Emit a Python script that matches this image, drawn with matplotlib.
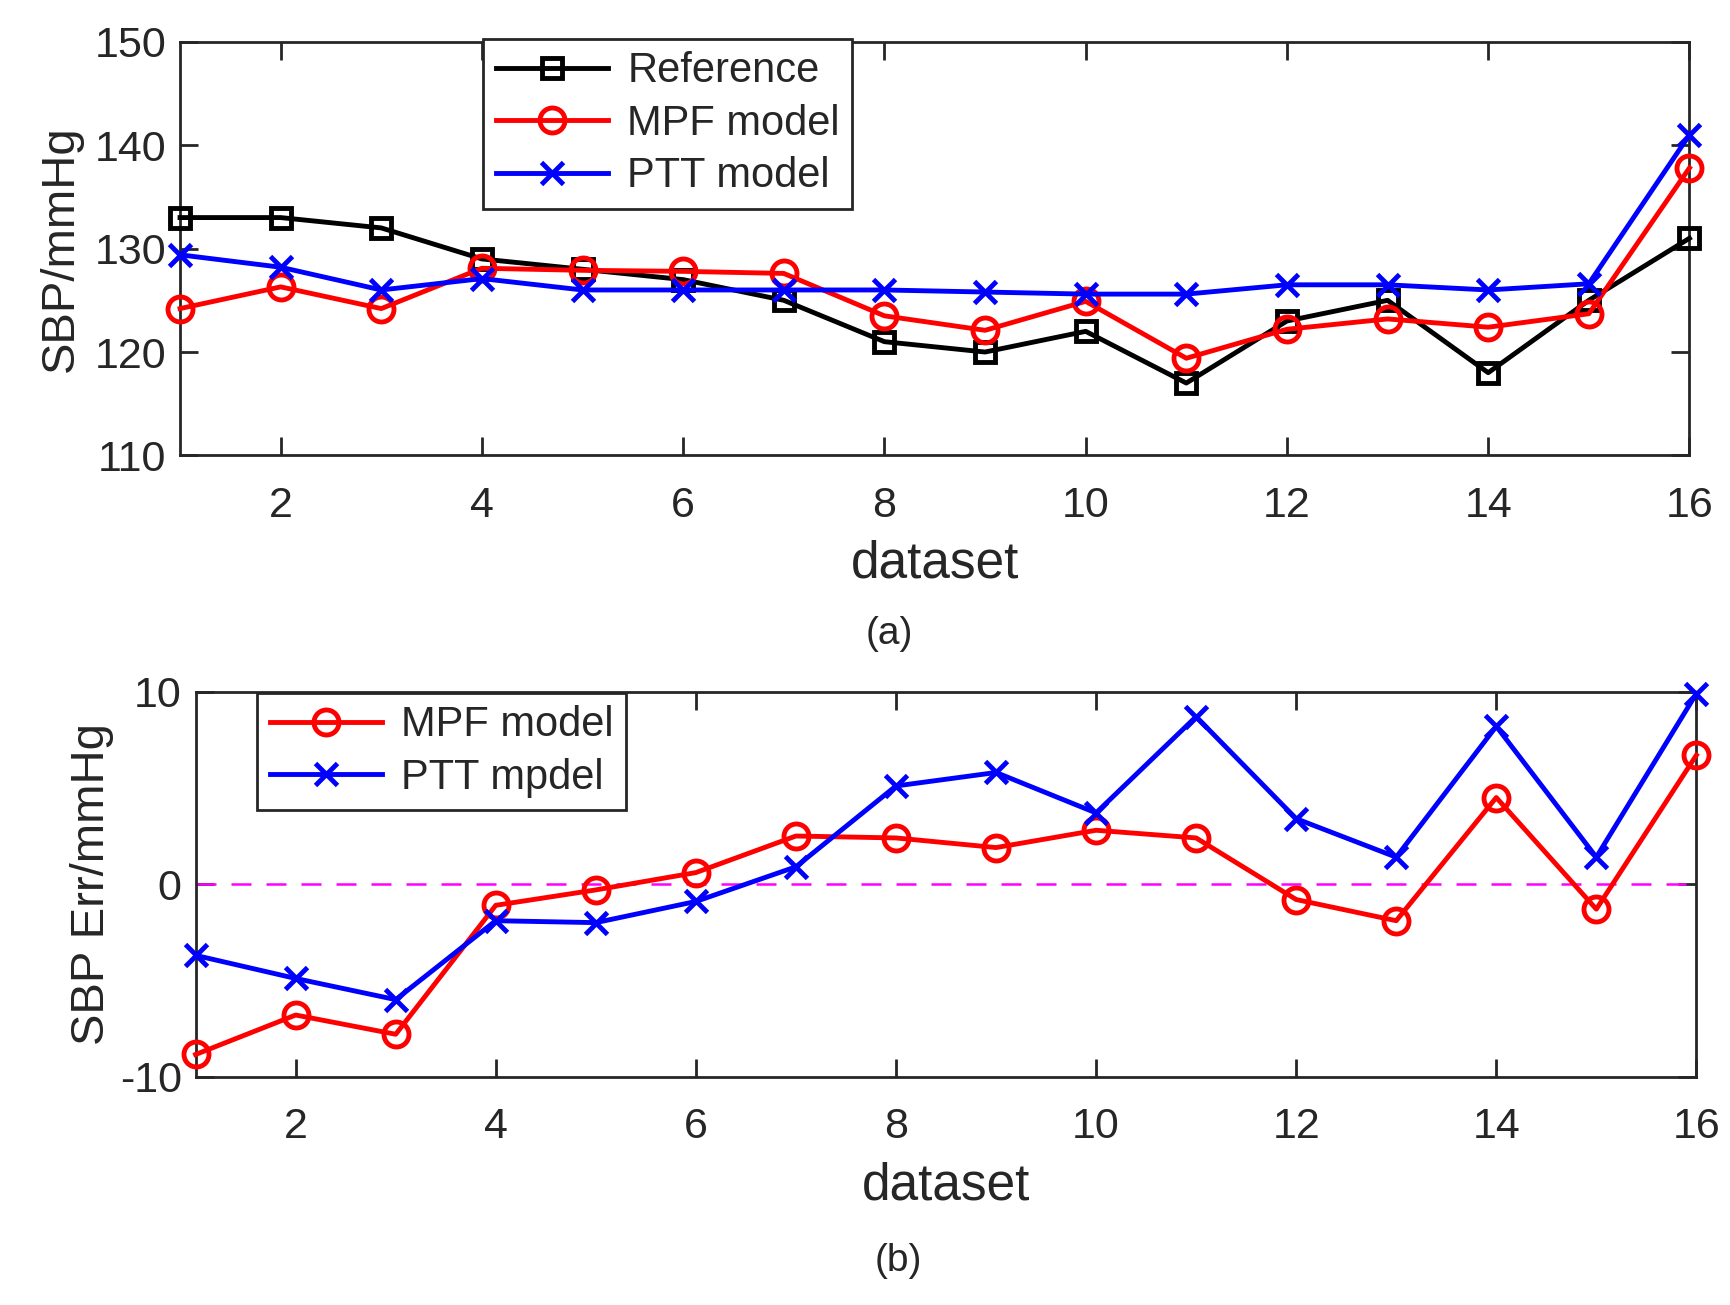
import matplotlib
matplotlib.use("Agg")
import matplotlib.pyplot as plt

plt.rcParams['font.family'] = ['Liberation Sans', 'DejaVu Sans']
plt.rcParams['axes.unicode_minus'] = False

datasets = list(range(1, 17))
sbp_reference = [133, 133, 132, 129, 128, 127, 125, 121, 120, 122, 117, 123, 125, 118, 125, 131]
sbp_mpf = [124.2, 126.3, 124.2, 128.1, 127.9, 127.8, 127.6, 123.5, 122.1, 124.9, 119.4, 122.2, 123.2, 122.4, 123.7, 137.8]
sbp_ptt = [129.4, 128.2, 126.0, 127.1, 126.0, 126.0, 126.0, 126.0, 125.8, 125.6, 125.6, 126.5, 126.5, 126.0, 126.6, 141.0]

err_mpf = [-8.85, -6.8, -7.8, -1.1, -0.3, 0.6, 2.5, 2.4, 1.9, 2.8, 2.4, -0.8, -1.9, 4.5, -1.3, 6.7]
err_ptt = [-3.7, -4.9, -6.0, -1.9, -2.0, -0.9, 0.9, 5.1, 5.8, 3.7, 8.7, 3.4, 1.4, 8.2, 1.4, 9.9]

xticks = [2, 4, 6, 8, 10, 12, 14, 16]
yticks_a = [110, 120, 130, 140, 150]
yticks_b = [-10, 0, 10]

TXT = '#262626'
LW = 3.5
MEW = 3.5

fig = plt.figure(figsize=(17.31, 13.05), dpi=100)
ax1 = fig.add_axes([0.104, 0.651, 0.872, 0.317])
ax2 = fig.add_axes([0.113, 0.175, 0.867, 0.295])

def style(ax):
    for s in ax.spines.values():
        s.set_linewidth(2.0)
        s.set_color(TXT)
    ax.tick_params(direction='in', length=13, width=2.0, top=True, right=True,
                   labelsize=31, colors=TXT)
    ax.tick_params(axis='x', pad=22)
    ax.tick_params(axis='y', pad=10)
    ax.set_xticks(xticks)
    ax.set_xlim(1, 16)

kw = dict(lw=LW, mew=MEW, clip_on=False, zorder=3)
ax1.plot(datasets, sbp_reference, '-s', color='black', ms=14, mfc='none', label='Reference', **kw)
ax1.plot(datasets, sbp_mpf, '-o', color='red', ms=18, mfc='none', label='MPF model', **kw)
ax1.plot(datasets, sbp_ptt, '-x', color='blue', ms=16, label='PTT model', **kw)
style(ax1)
ax1.set_ylim(110, 150)
ax1.set_yticks(yticks_a)
ax1.set_xlabel('dataset', fontsize=37, color=TXT, labelpad=10)
ax1.set_ylabel('SBP/mmHg', fontsize=34, color=TXT, labelpad=8)
leg1 = ax1.legend(loc='upper left', bbox_to_anchor=(0.201, 1.007), fontsize=30, frameon=True,
                  fancybox=False, edgecolor=TXT, framealpha=1, handlelength=2.7,
                  borderpad=0.3, labelspacing=0.3, handletextpad=0.45, borderaxespad=0)
leg1.get_frame().set_linewidth(2.0)
leg1.set_zorder(5)
for t in leg1.get_texts():
    t.set_color(TXT)

ax2.axhline(0, color='magenta', lw=1.8, dashes=(8, 6), zorder=2)
ax2.plot(datasets, err_mpf, '-o', color='red', ms=18, mfc='none', label='MPF model', **kw)
ax2.plot(datasets, err_ptt, '-x', color='blue', ms=16, label='PTT mpdel', **kw)
style(ax2)
ax2.set_ylim(-10, 10)
ax2.set_yticks(yticks_b)
ax2.set_xlabel('dataset', fontsize=37, color=TXT, labelpad=10)
ax2.set_ylabel('SBP Err/mmHg', fontsize=34, color=TXT, labelpad=4)
leg2 = ax2.legend(loc='upper left', bbox_to_anchor=(0.041, 0.997), fontsize=30, frameon=True,
                  fancybox=False, edgecolor=TXT, framealpha=1, handlelength=2.7,
                  borderpad=0.3, labelspacing=0.3, handletextpad=0.45, borderaxespad=0)
leg2.get_frame().set_linewidth(2.0)
leg2.set_zorder(5)
for t in leg2.get_texts():
    t.set_color(TXT)

fig.text(0.514, 0.514, '(a)', fontsize=28, color=TXT, ha='center', va='center')
fig.text(0.519, 0.034, '(b)', fontsize=28, color=TXT, ha='center', va='center')

fig.savefig('out.png', dpi=100, facecolor='white')
